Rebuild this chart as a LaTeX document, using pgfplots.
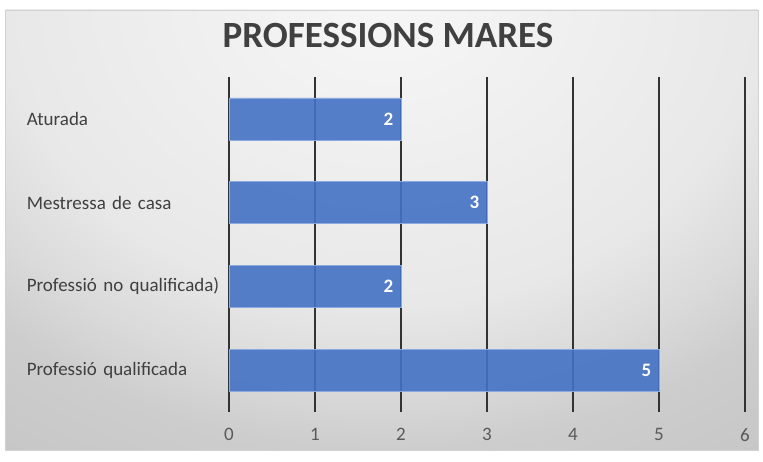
\documentclass[border=0pt]{standalone}
\usepackage{pgfplots}
\pgfplotsset{compat=1.18}
\usepackage{fontspec}
\setmainfont{Carlito}

\definecolor{barblue}{RGB}{68,114,196}
\definecolor{baredge}{RGB}{140,170,222}
\definecolor{titlegray}{RGB}{64,64,64}
\definecolor{labelgray}{RGB}{64,64,64}
\definecolor{tickgray}{RGB}{89,89,89}

% soft grey background, lighter at the top centre
\pgfdeclareradialshading{bgshade}{\pgfpoint{0bp}{0bp}}{%
  rgb(0bp)=(0.968,0.968,0.968);
  rgb(12.6bp)=(0.91,0.91,0.91);
  rgb(15.9bp)=(0.855,0.855,0.855);
  rgb(18.5bp)=(0.804,0.804,0.804);
  rgb(22.3bp)=(0.78,0.78,0.78);
  rgb(25bp)=(0.772,0.772,0.772);
  rgb(50bp)=(0.772,0.772,0.772)}

\begin{document}
\begin{tikzpicture}[x=1pt,y=1pt]
% page and chart area
\fill[white] (0,0) rectangle (763,461);
\begin{scope}
  \clip (5,11) rectangle (758,451);
  \shade[shading=bgshade] (384,470) ellipse [x radius=760, y radius=620];
\end{scope}
\draw[gray!35, line width=0.8pt] (5,11) rectangle (758,451);

\node[font=\fontsize{37}{40}\selectfont\bfseries, text=titlegray] at (388,426) {PROFESSIONS MARES};

\begin{axis}[
  at={(229pt,49pt)}, anchor=south west,
  scale only axis, width=516pt, height=335pt,
  xmin=0, xmax=6, ymin=-0.5, ymax=3.5,
  xbar, bar width=42pt,
  xtick={0,1,2,3,4,5,6},
  ytick={0,1,2,3},
  yticklabels={Professió qualificada, Professió no qualificada), Mestressa de casa, Aturada},
  axis line style={draw=none},
  major tick length=0pt,
  xmajorgrids,
  grid style={black!80, line width=1.3pt},
  /pgf/number format/assume math mode=true,
  xticklabel style={font=\fontsize{19}{22}\selectfont, text=tickgray, yshift=-13pt},
  yticklabel style={font=\fontsize{19}{22}\selectfont, text=labelgray, anchor=east,
    text width=200pt, align=left, inner sep=0pt, xshift=-2pt},
  clip=false,
]
\addplot[fill=barblue, fill opacity=0.9, draw=baredge, line width=0.6pt,
  nodes near coords,
  every node near coord/.append style={anchor=east, xshift=-4pt, text=white, text opacity=1,
    font=\fontsize{19}{22}\selectfont\bfseries}]
  coordinates {(5,0) (2,1) (3,2) (2,3)};
\end{axis}
\end{tikzpicture}
\end{document}
